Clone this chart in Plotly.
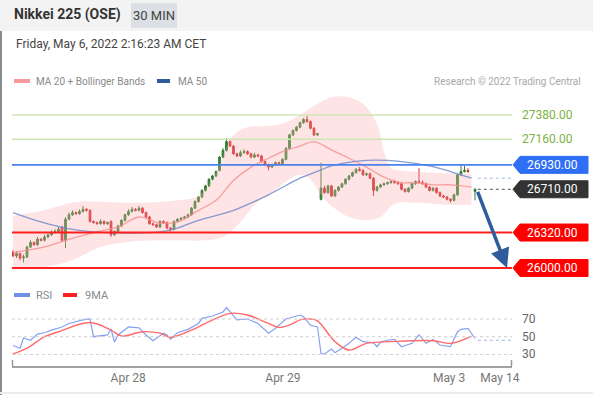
import plotly.graph_objects as go

# ---------------- data ----------------
opens = [
    26140, 26110, 26130, 26090, 26100, 26190, 26230, 26210, 26260, 26250,
    26280, 26300, 26320, 26330, 26370, 26250, 26440, 26480, 26500, 26490,
    26510, 26530, 26520, 26420, 26410, 26400, 26420, 26400, 26420, 26300,
    26330, 26380, 26430, 26480, 26510, 26530, 26520, 26540, 26500, 26460,
    26400, 26390, 26370, 26420, 26410, 26360, 26350, 26420, 26440, 26450,
    26460, 26480, 26540, 26600, 26640, 26700, 26740, 26800, 26830, 26880,
    27000, 27060, 27140, 27100, 27030, 27010, 27040, 27050, 27030, 27000,
    27020, 27010, 26960, 26930, 26910, 26930, 26950, 26940, 26980, 27080,
    27200, 27240, 27270, 27310, 27340, 27320, 27260, 27200, 26620, 26720,
    26680, 26740, 26650, 26700, 26730, 26760, 26800, 26830, 26860, 26890,
    26880, 26840, 26850, 26810, 26700, 26730, 26750, 26760, 26770, 26780,
    26770, 26760, 26710, 26690, 26720, 26760, 26780, 26770, 26760, 26730,
    26700, 26720, 26680, 26650, 26640, 26620, 26610, 26660, 26840, 26870,
    26880, None, 26690,
]
highs = [
    26160, 26150, 26140, 26120, 26200, 26250, 26240, 26280, 26270, 26300,
    26310, 26340, 26350, 26370, 26380, 26460, 26500, 26520, 26510, 26530,
    26560, 26540, 26530, 26430, 26420, 26440, 26430, 26420, 26430, 26340,
    26390, 26440, 26490, 26530, 26550, 26540, 26560, 26550, 26510, 26470,
    26410, 26400, 26430, 26430, 26420, 26370, 26430, 26450, 26460, 26470,
    26490, 26550, 26610, 26650, 26710, 26750, 26810, 26840, 26880, 27010,
    27080, 27170, 27150, 27110, 27040, 27060, 27070, 27060, 27040, 27040,
    27030, 27020, 26970, 26940, 26940, 26960, 26960, 26990, 27090, 27210,
    27250, 27280, 27320, 27350, 27370, 27330, 27270, 27220, 26950, 26740,
    26750, 26750, 26710, 26740, 26770, 26810, 26840, 26870, 26900, 26910,
    26890, 26860, 26860, 26820, 26740, 26760, 26770, 26780, 26790, 26790,
    26780, 26770, 26720, 26730, 26770, 26790, 26900, 26790, 26770, 26740,
    26730, 26730, 26690, 26660, 26650, 26630, 26670, 26850, 26930, 26920,
    26900, None, 26720,
]
lows = [
    26100, 26090, 26070, 26050, 26090, 26180, 26200, 26200, 26240, 26240,
    26270, 26290, 26310, 26320, 26240, 26180, 26430, 26470, 26480, 26480,
    26500, 26510, 26410, 26400, 26390, 26390, 26390, 26390, 26280, 26290,
    26320, 26370, 26420, 26470, 26500, 26510, 26510, 26490, 26450, 26390,
    26380, 26360, 26360, 26400, 26350, 26330, 26340, 26410, 26430, 26440,
    26450, 26470, 26530, 26590, 26630, 26690, 26730, 26790, 26820, 26870,
    26990, 27050, 27090, 27020, 27000, 27000, 27030, 27020, 26990, 26990,
    27000, 26950, 26920, 26880, 26900, 26920, 26930, 26930, 26970, 27070,
    27190, 27230, 27260, 27300, 27310, 27250, 27190, 27190, 26610, 26670,
    26670, 26640, 26640, 26690, 26720, 26750, 26790, 26820, 26850, 26870,
    26830, 26830, 26800, 26650, 26690, 26720, 26740, 26750, 26760, 26760,
    26750, 26700, 26680, 26680, 26710, 26750, 26760, 26750, 26720, 26690,
    26690, 26670, 26640, 26630, 26610, 26590, 26600, 26650, 26830, 26860,
    26860, None, 26610,
]
closes = [
    26110, 26130, 26090, 26100, 26190, 26230, 26210, 26260, 26250, 26280,
    26300, 26320, 26330, 26350, 26250, 26440, 26480, 26500, 26490, 26510,
    26530, 26520, 26420, 26410, 26400, 26420, 26400, 26410, 26300, 26330,
    26380, 26430, 26480, 26510, 26530, 26520, 26540, 26500, 26460, 26400,
    26390, 26370, 26420, 26410, 26360, 26350, 26420, 26440, 26450, 26460,
    26480, 26540, 26600, 26640, 26700, 26740, 26800, 26830, 26870, 27000,
    27060, 27140, 27100, 27030, 27010, 27040, 27050, 27030, 27000, 27020,
    27010, 26960, 26930, 26910, 26930, 26950, 26940, 26980, 27080, 27200,
    27240, 27270, 27310, 27340, 27320, 27260, 27200, 27210, 26720, 26680,
    26740, 26650, 26700, 26730, 26760, 26800, 26830, 26860, 26890, 26880,
    26840, 26850, 26810, 26700, 26730, 26750, 26760, 26770, 26780, 26770,
    26760, 26710, 26690, 26720, 26760, 26780, 26770, 26760, 26730, 26700,
    26720, 26680, 26650, 26640, 26620, 26610, 26660, 26840, 26870, 26880,
    26870, None, 26710,
]
candle_idx = list(range(len(closes)))

ma20_idx = [0, 9, 15, 23, 30, 36, 42, 47, 53, 58, 63, 68, 73, 77, 82, 86, 91, 96, 101, 106, 111, 115, 120, 125, 131]
ma20_val = [26140, 26190, 26250, 26320, 26370, 26460, 26405, 26415, 26520, 26610, 26790, 26910, 26990, 27050,
            27100, 27140, 27065, 26990, 26910, 26820, 26770, 26770, 26750, 26750, 26730]

ma50_idx = [0, 8, 15, 23, 34, 42, 47, 53, 63, 73, 82, 88, 91, 101, 111, 120, 125, 131]
ma50_val = [26500, 26415, 26360, 26325, 26315, 26325, 26360, 26430, 26520, 26660, 26810, 26885, 26920,
            26970, 26960, 26915, 26870, 26810]

bb_up_idx = [0, 9, 17, 23, 30, 38, 47, 53, 57, 60, 63, 67, 72, 77, 82, 87, 91, 96, 100, 104, 106, 108, 111, 120, 131]
bb_up_val = [26470, 26520, 26590, 26600, 26590, 26590, 26610, 26650, 26800, 27000, 27200, 27270, 27280, 27300,
             27380, 27480, 27540, 27540, 27480, 27300, 27050, 26900, 26880, 26860, 26850]
bb_lo_idx = [0, 9, 15, 19, 25, 34, 45, 55, 60, 63, 66, 70, 75, 78, 82, 85, 88, 91, 96, 101, 105, 109, 115, 124, 131]
bb_lo_val = [26000, 26010, 26050, 26100, 26190, 26240, 26250, 26250, 26280, 26350, 26450, 26600, 26700, 26780,
             26840, 26800, 26660, 26560, 26460, 26430, 26460, 26580, 26590, 26570, 26570]

rsi_idx = [0, 2, 3, 5, 7, 9, 11, 14, 16, 20, 22, 23, 27, 28, 29, 30, 33, 36, 38, 40, 43, 44, 45, 47, 50, 53,
           54, 57, 60, 61, 64, 67, 70, 73, 75, 78, 82, 83, 85, 87, 88, 89, 91, 92, 94, 96, 98, 100, 103, 104,
           105, 107, 109, 111, 114, 116, 118, 120, 122, 125, 127, 128, 130, 132]
rsi_val = [40, 37, 48.5, 46, 53, 54.5, 57.5, 61, 65, 69, 70, 50, 52, 58.7, 44, 52, 61, 60, 52, 45.5, 54, 52,
           47.4, 54.5, 58.3, 65, 70.8, 73.4, 78, 83, 69, 70, 65, 54, 59.5, 70, 74.5, 72.6, 63, 61, 31, 30.5,
           36, 32, 37, 42.5, 49.3, 44.4, 43, 38.7, 44, 46, 47, 38.7, 42.5, 52, 42.5, 47, 40.6, 38.7, 55.6,
           58.3, 59.5, 48]
ma9_idx = [0, 4, 9, 13, 22, 28, 31, 37, 42, 45, 51, 55, 62, 67, 73, 76, 80, 82, 85, 87, 92, 96, 101, 108, 120, 125, 131]
ma9_val = [30.5, 37, 50, 55.6, 66, 57.5, 50.8, 55.6, 54, 49.3, 57.5, 65, 76.4, 74.5, 65, 60.6, 65, 69, 70,
           68, 44.4, 35, 42.5, 44.4, 45.5, 42.5, 50.8]

rsi_levels = [70, 50, 30]
rsi_projection = 46

green_levels = [27380, 27160]
blue_level = 26930
red_levels = [26320, 26000]
last_price = 26710
ma50_projection = 26810

tick_pos = [32.9, 77.1, 124.6, 139.1]
tick_text = ["Apr 28", "Apr 29", "May 3", "May 14"]

# ---------------- layout helpers ----------------
W, H = 593, 395
L, R = 12, 512
X_RANGE = [(L - 13) / 3.5, (R - 13) / 3.5]
PRICE_RANGE = [25892, 27587]
RSI_RANGE = [16.9, 91.5]
FONT = "Roboto, Arial, sans-serif"


def px(xp):
    return (xp - L) / (R - L)


def py(yp):
    return 1 - yp / H


fig = go.Figure()

# Bollinger band fill
fig.add_trace(go.Scatter(x=bb_lo_idx, y=bb_lo_val, mode="lines", line=dict(width=0, shape="spline"),
                         xaxis="x", yaxis="y", hoverinfo="skip"))
fig.add_trace(go.Scatter(x=bb_up_idx, y=bb_up_val, mode="lines", line=dict(width=0, shape="spline"),
                         fill="tonexty", fillcolor="rgba(252,170,170,0.32)", xaxis="x", yaxis="y",
                         hoverinfo="skip"))
# MA lines
fig.add_trace(go.Scatter(x=ma20_idx, y=ma20_val, mode="lines",
                         line=dict(color="rgba(245,140,140,0.8)", width=1.3, shape="spline"),
                         xaxis="x", yaxis="y"))
fig.add_trace(go.Scatter(x=ma50_idx, y=ma50_val, mode="lines",
                         line=dict(color="rgba(110,140,205,0.85)", width=1.3, shape="spline"),
                         xaxis="x", yaxis="y"))
# candles
fig.add_trace(go.Candlestick(x=candle_idx, open=opens, high=highs, low=lows, close=closes,
                             increasing=dict(line=dict(color="#2f7d32", width=1), fillcolor="#2f8a34"),
                             decreasing=dict(line=dict(color="#d0262b", width=1), fillcolor="#d8282d"),
                             whiskerwidth=0, xaxis="x", yaxis="y"))

# RSI
fig.add_trace(go.Scatter(x=rsi_idx, y=rsi_val, mode="lines", line=dict(color="#86a2f0", width=1.2),
                         xaxis="x2", yaxis="y2"))
fig.add_trace(go.Scatter(x=ma9_idx, y=ma9_val, mode="lines",
                         line=dict(color="#ff6b6b", width=1.4, shape="spline"), xaxis="x2", yaxis="y2"))

shapes = []
annotations = []

# header band
shapes.append(dict(type="rect", xref="paper", yref="paper", x0=px(0), x1=px(W), y0=py(31), y1=py(0),
                   fillcolor="#f3f3f3", line=dict(width=0), layer="below"))
shapes.append(dict(type="rect", xref="paper", yref="paper", x0=px(131), x1=px(177), y0=py(28), y1=py(3),
                   fillcolor="#dcdfe5", line=dict(width=0)))
shapes.append(dict(type="line", xref="paper", yref="paper", x0=px(1), x1=px(1), y0=py(31), y1=py(H),
                   line=dict(color="#8a8a8a", width=2)))
shapes.append(dict(type="line", xref="paper", yref="paper", x0=px(0), x1=px(W), y0=py(393), y1=py(393),
                   line=dict(color="#ececec", width=2)))
annotations.append(dict(text="<b>Nikkei 225 (OSE)</b>", x=px(12), y=py(15), xref="paper", yref="paper",
                        xanchor="left", yanchor="middle", showarrow=False,
                        font=dict(size=14, color="#333", family=FONT)))
annotations.append(dict(text="30 MIN", x=px(154), y=py(15.5), xref="paper", yref="paper",
                        xanchor="center", yanchor="middle", showarrow=False,
                        font=dict(size=13, color="#444", family=FONT)))
annotations.append(dict(text="Friday, May 6, 2022 2:16:23 AM CET", x=px(14), y=py(44), xref="paper",
                        yref="paper", xanchor="left", yanchor="middle", showarrow=False,
                        font=dict(size=12, color="#444", family=FONT)))

# legends
def swatch(x0, x1, yc, color):
    shapes.append(dict(type="rect", xref="paper", yref="paper", x0=px(x0), x1=px(x1), y0=py(yc + 2),
                       y1=py(yc - 2), fillcolor=color, line=dict(width=0)))


def label(text, x, y, color="#8a8a8a", size=10, anchor="left"):
    annotations.append(dict(text=text, x=px(x), y=py(y), xref="paper", yref="paper", xanchor=anchor,
                            yanchor="middle", showarrow=False, font=dict(size=size, color=color, family=FONT)))


swatch(14, 30, 81, "#f79a9a")
label("MA 20 + Bollinger Bands", 34, 81)
swatch(157, 170, 81, "#2f5c9c")
label("MA 50", 176, 81)
label("Research © 2022 Trading Central", 583, 81, color="#a8a8a8", anchor="right")
swatch(14, 30, 295, "#6f8fe8")
label("RSI", 34, 295, size=11)
swatch(63, 77, 295, "#ff2020")
label("9MA", 83, 295, size=11)

# level lines
for lv in green_levels:
    shapes.append(dict(type="line", xref="paper", yref="y", x0=0, x1=1, y0=lv, y1=lv,
                       line=dict(color="#cfe6b4", width=1.5)))
    annotations.append(dict(text=f"{lv:.2f}", x=px(520), y=lv, xref="paper", yref="y", xanchor="left",
                            yanchor="middle", showarrow=False, font=dict(size=12, color="#7cb342", family=FONT)))
shapes.append(dict(type="line", xref="paper", yref="y", x0=0, x1=1, y0=blue_level, y1=blue_level,
                   line=dict(color="#4a80f0", width=1.6)))
for lv in red_levels:
    shapes.append(dict(type="line", xref="paper", yref="y", x0=0, x1=1, y0=lv, y1=lv,
                       line=dict(color="#ff1f1f", width=2)))

last_x = candle_idx[-1]
shapes.append(dict(type="line", xref="x", yref="y", x0=last_x + 0.8, x1=X_RANGE[1], y0=last_price,
                   y1=last_price, line=dict(color="#555", width=1, dash="dot")))
shapes.append(dict(type="line", xref="x", yref="y", x0=last_x + 0.8, x1=X_RANGE[1], y0=ma50_projection,
                   y1=ma50_projection, line=dict(color="#9fb4e4", width=1, dash="dot")))

# tags
price_per_px = (PRICE_RANGE[1] - PRICE_RANGE[0]) / (280 - 92)
half = 8.5 * price_per_px


def tag(level, color):
    path = (f"M {px(513)},{level} L {px(520)},{level + half} L {px(588)},{level + half} "
            f"L {px(588)},{level - half} L {px(520)},{level - half} Z")
    shapes.append(dict(type="path", xref="paper", yref="y", path=path, fillcolor=color,
                       line=dict(color=color, width=1)))
    annotations.append(dict(text=f"{level:.2f}", x=px(552), y=level, xref="paper", yref="y",
                            xanchor="center", yanchor="middle", showarrow=False,
                            font=dict(size=12, color="white", family=FONT)))


tag(blue_level, "#2f6ff5")
tag(last_price, "#333333")
for lv in red_levels:
    tag(lv, "#ff0000")

# arrow
annotations.append(dict(x=(507 - 13) / 3.5, y=red_levels[1], ax=last_x + 0.6, ay=last_price - 10,
                        xref="x", yref="y", axref="x", ayref="y", text="", showarrow=True,
                        arrowhead=2, arrowsize=1.1, arrowwidth=3.5, arrowcolor="#2f5c9c"))

# RSI levels
for lv in rsi_levels:
    shapes.append(dict(type="line", xref="paper", yref="y2", x0=0, x1=1, y0=lv, y1=lv,
                       line=dict(color="#cfcfcf", width=1, dash="dot")))
    annotations.append(dict(text=str(lv), x=px(520), y=lv, xref="paper", yref="y2", xanchor="left",
                            yanchor="middle", showarrow=False, font=dict(size=12, color="#666", family=FONT)))
shapes.append(dict(type="line", xref="x2", yref="y2", x0=last_x + 0.8, x1=X_RANGE[1], y0=rsi_projection,
                   y1=rsi_projection, line=dict(color="#9fb4e4", width=1, dash="dot")))

# axis end ticks
for xe in (L + 0.5, R - 0.5):
    shapes.append(dict(type="line", xref="paper", yref="paper", x0=px(xe), x1=px(xe), y0=py(366),
                       y1=py(360), line=dict(color="#999", width=1.5)))

fig.update_layout(
    width=W, height=H, margin=dict(l=L, r=W - R, t=0, b=0),
    paper_bgcolor="white", plot_bgcolor="rgba(0,0,0,0)",
    showlegend=False, font=dict(family=FONT),
    xaxis=dict(range=X_RANGE, domain=[0, 1], anchor="y", showgrid=False, zeroline=False,
               showticklabels=False, rangeslider=dict(visible=False), fixedrange=True),
    yaxis=dict(range=PRICE_RANGE, domain=[py(280), py(92)], showgrid=False, zeroline=False,
               showticklabels=False),
    xaxis2=dict(range=X_RANGE, domain=[0, 1], anchor="y2", showgrid=False, zeroline=False,
                tickvals=tick_pos, ticktext=tick_text, ticks="", showline=True, linecolor="#a0a0a0",
                linewidth=1.5, tickfont=dict(size=12, color="#777", family=FONT)),
    yaxis2=dict(range=RSI_RANGE, domain=[py(366), py(300)], showgrid=False, zeroline=False,
                showticklabels=False),
    shapes=shapes, annotations=annotations,
)

fig.write_html("out.html", config={"displayModeBar": False},
               post_script="document.body.style.margin='0px';document.body.style.overflow='hidden';")
